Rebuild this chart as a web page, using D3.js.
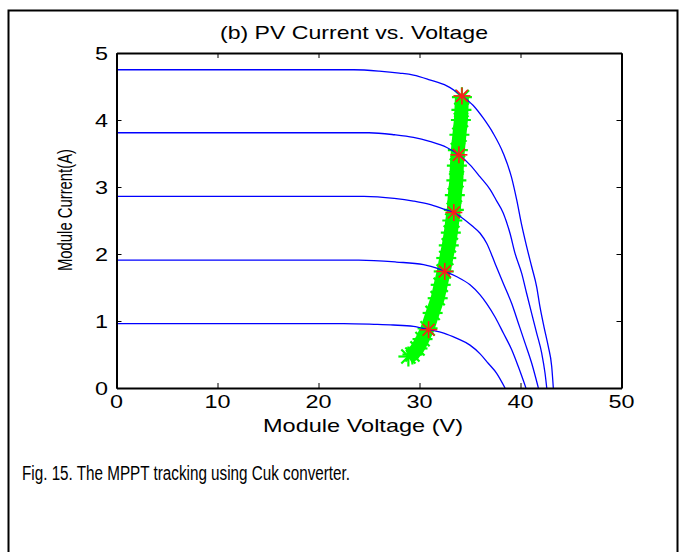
<!DOCTYPE html>
<html>
<head>
<meta charset="utf-8">
<script src="https://cdn.jsdelivr.net/npm/d3@7"></script>
<style>
  html, body { margin: 0; padding: 0; background: #fff; }
  svg { display: block; }
  text { font-family: "Liberation Sans", Arial, Helvetica, sans-serif; fill: #000; }
</style>
</head>
<body>
<svg id="chart" width="680" height="552"></svg>
<script>
// ---------------- data ----------------
const titleText = "(b) PV Current vs. Voltage";
const xLabelText = "Module Voltage (V)";
const yLabelText = "Module Current(A)";
const captionText = "Fig. 15. The MPPT tracking using Cuk converter.";

const xTicks = [0, 10, 20, 30, 40, 50];
const yTicks = [0, 1, 2, 3, 4, 5];

// I-V curves for five irradiance levels: voltage (V) and current (A)
const curve1V = [0, 23.5, 26.0, 28.0, 29.4, 31.0, 32.7, 34.2, 35.3, 36.3, 37.3, 38.3, 39.1, 39.62, 40.12, 40.61, 41.11, 41.60, 41.93, 42.33, 42.75, 43.09, 43.25];
const curve1I = [4.75, 4.75, 4.73, 4.70, 4.67, 4.60, 4.51, 4.36, 4.22, 4.03, 3.80, 3.50, 3.15, 2.81, 2.43, 2.11, 1.81, 1.51, 1.21, 0.91, 0.62, 0.32, 0];

const curve2V = [0, 25.0, 27.5, 29.4, 31.0, 32.7, 33.9, 35.0, 36.0, 37.0, 37.57, 38.3, 38.96, 39.46, 40.12, 40.61, 41.11, 41.6, 42.1, 42.43, 42.6];
const curve2I = [3.81, 3.81, 3.78, 3.74, 3.68, 3.59, 3.48, 3.33, 3.15, 2.96, 2.81, 2.61, 2.31, 2.01, 1.71, 1.41, 1.11, 0.82, 0.52, 0.22, 0];

const curve3V = [0, 24.5, 27.5, 29.4, 31.0, 32.4, 33.4, 34.3, 35.2, 36.0, 36.65, 37.48, 38.3, 39.13, 39.78, 40.45, 41.11, 41.77];
const curve3I = [2.86, 2.86, 2.83, 2.79, 2.74, 2.67, 2.62, 2.53, 2.42, 2.31, 2.16, 1.86, 1.56, 1.26, 0.97, 0.67, 0.37, 0];

const curve4V = [0, 24.0, 27.7, 30.4, 31.7, 32.5, 33.7, 35.0, 36.0, 36.65, 37.48, 38.3, 39.13, 39.78, 40.54];
const curve4I = [1.91, 1.91, 1.88, 1.84, 1.79, 1.74, 1.66, 1.54, 1.39, 1.26, 1.06, 0.82, 0.57, 0.32, 0];

const curve5V = [0, 22.5, 25.5, 27.4, 29.4, 30.9, 32.4, 33.7, 35.0, 36.0, 36.8, 37.64, 38.47];
const curve5I = [0.96, 0.96, 0.95, 0.94, 0.92, 0.87, 0.82, 0.74, 0.64, 0.51, 0.37, 0.22, 0];

// maximum power points (red stars)
const mppV = [34.2, 33.9, 33.4, 32.5, 30.9];
const mppI = [4.36, 3.48, 2.62, 1.74, 0.87];

// MPPT tracking trajectory (green)
const trackV = [34.2, 34.15, 34.1, 33.95, 33.8, 33.7, 33.65, 33.5, 33.4, 33.25, 33.1, 32.9, 32.65, 32.4, 32.1, 31.8, 31.3, 30.8, 30.3, 29.8, 29.3, 28.9];
const trackI = [4.34, 4.15, 4.0, 3.78, 3.55, 3.32, 3.1, 2.88, 2.66, 2.5, 2.32, 2.13, 1.94, 1.74, 1.54, 1.34, 1.12, 0.89, 0.73, 0.59, 0.50, 0.47];

// ---------------- drawing ----------------
const svg = d3.select("#chart");

// outer figure frame
svg.append("rect")
  .attr("x", 8.5).attr("y", 10.5).attr("width", 669).attr("height", 600)
  .attr("fill", "none").attr("stroke", "#000").attr("stroke-width", 2);

const x = d3.scaleLinear().domain([0, 50]).range([116.5, 621.5]);
const y = d3.scaleLinear().domain([0, 5]).range([388, 53]);

const plot = svg.append("g");

svg.append("defs").append("clipPath").attr("id", "clip")
  .append("rect").attr("x", 116.5).attr("y", 53).attr("width", 505).attr("height", 335);

const curves = [
  [curve1V, curve1I], [curve2V, curve2I], [curve3V, curve3I],
  [curve4V, curve4I], [curve5V, curve5I]
];

const gClip = plot.append("g").attr("clip-path", "url(#clip)");

function asterisk(g, cx, cy, r, color, width) {
  const a = g.append("g").attr("transform", `translate(${cx},${cy})`);
  [0, 45, 90, 135].forEach(ang => {
    const rad = ang * Math.PI / 180;
    a.append("line")
      .attr("x1", -r * Math.cos(rad)).attr("y1", -r * Math.sin(rad))
      .attr("x2", r * Math.cos(rad)).attr("y2", r * Math.sin(rad))
      .attr("stroke", color).attr("stroke-width", width);
  });
}

// green tracking band
const trackPts = trackV.map((v, i) => [v, trackI[i]]);
const trackLine = d3.line().x(d => x(d[0])).y(d => y(d[1])).curve(d3.curveLinear);
gClip.append("path")
  .attr("d", trackLine(trackPts))
  .attr("fill", "none")
  .attr("stroke", "#00ff00")
  .attr("stroke-width", 14)
  .attr("stroke-linejoin", "round")
  .attr("stroke-linecap", "butt");
const gTrack = gClip.append("g");
trackPts.forEach(d => asterisk(gTrack, x(d[0]), y(d[1]), 10, "#00ff00", 2.2));

// I-V curves (drawn over the band)
const line = d3.line()
  .x(d => x(d[0])).y(d => y(d[1]))
  .curve(d3.curveMonotoneX);
curves.forEach(([vs, is]) => {
  const pts = vs.map((v, i) => [v, is[i]]);
  gClip.append("path")
    .attr("d", line(pts))
    .attr("fill", "none")
    .attr("stroke", "#0000ff")
    .attr("stroke-width", 1.3);
});

// red maximum power point stars
const gMpp = plot.append("g");
mppV.forEach((v, i) => asterisk(gMpp, x(v), y(mppI[i]), 8.5, "#ff1a1a", 1.6));

// axes (box with inward ticks)
const axG = svg.append("g");
axG.append("g").attr("transform", "translate(0,388)")
  .call(d3.axisBottom(x).tickValues(xTicks).tickSizeInner(-5).tickSizeOuter(0).tickFormat(""));
axG.append("g").attr("transform", "translate(0,53)")
  .call(d3.axisTop(x).tickValues(xTicks).tickSizeInner(-5).tickSizeOuter(0).tickFormat(""));
axG.append("g").attr("transform", "translate(116.5,0)")
  .call(d3.axisLeft(y).tickValues(yTicks).tickSizeInner(-5).tickSizeOuter(0).tickFormat(""));
axG.append("g").attr("transform", "translate(621.5,0)")
  .call(d3.axisRight(y).tickValues(yTicks).tickSizeInner(-5).tickSizeOuter(0).tickFormat(""));
axG.selectAll(".domain").attr("stroke", "#000").attr("stroke-width", 2);
axG.selectAll(".tick line").attr("stroke", "#000").attr("stroke-width", 1);

// tick labels
svg.append("g").selectAll("text").data(xTicks).join("text")
  .attr("x", d => x(d) - (String(d).length * 13) / 2)
  .attr("y", 408)
  .attr("font-size", 17.5)
  .attr("textLength", d => String(d).length * 13)
  .attr("lengthAdjust", "spacingAndGlyphs")
  .text(d => d);

svg.append("g").selectAll("text").data(yTicks).join("text")
  .attr("x", 108 - 13)
  .attr("y", d => y(d) + 6.5)
  .attr("font-size", 17.5)
  .attr("textLength", 13)
  .attr("lengthAdjust", "spacingAndGlyphs")
  .text(d => d);

// title
svg.append("text")
  .attr("x", 220).attr("y", 39)
  .attr("font-size", 19)
  .attr("textLength", 268)
  .attr("lengthAdjust", "spacingAndGlyphs")
  .text(titleText);

// x label
svg.append("text")
  .attr("x", 263).attr("y", 432)
  .attr("font-size", 19)
  .attr("textLength", 200)
  .attr("lengthAdjust", "spacingAndGlyphs")
  .text(xLabelText);

// y label
svg.append("text")
  .attr("transform", "translate(72,271) rotate(-90)")
  .attr("font-size", 19.5)
  .attr("textLength", 122)
  .attr("lengthAdjust", "spacingAndGlyphs")
  .text(yLabelText);

// caption
svg.append("text")
  .attr("x", 22).attr("y", 480)
  .attr("font-size", 20)
  .attr("textLength", 328)
  .attr("lengthAdjust", "spacingAndGlyphs")
  .text(captionText);
</script>
</body>
</html>
